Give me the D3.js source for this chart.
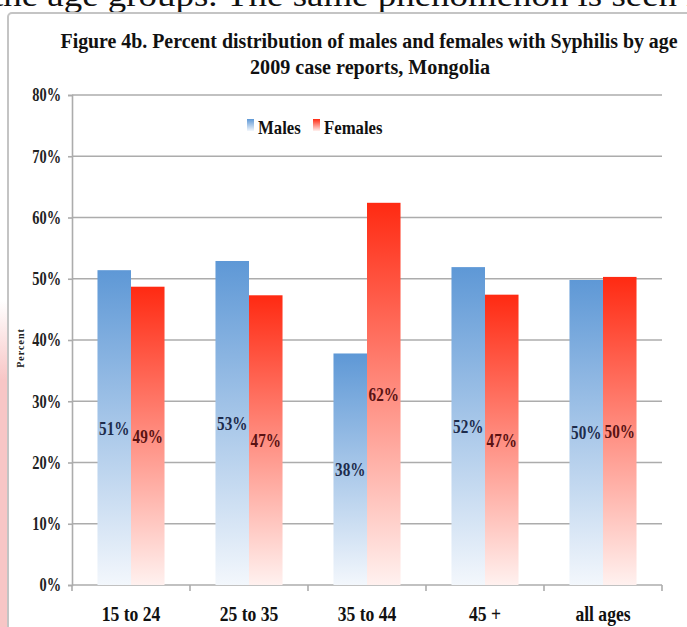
<!DOCTYPE html>
<html>
<head>
<meta charset="utf-8">
<script src="https://cdn.jsdelivr.net/npm/d3@7"></script>
<style>
  body { margin: 0; background: #fff; }
  svg text { font-family: "Liberation Serif", "DejaVu Serif", serif; font-weight: bold; }
</style>
</head>
<body>
<svg id="chart" width="687" height="627"></svg>
<script>
//  data
const categories = ["15 to 24", "25 to 35", "35 to 44", "45 +", "all ages"];
const series = ["Males", "Females"];
const males = [51.4, 52.9, 37.8, 51.9, 49.8];
const females = [48.7, 47.3, 62.4, 47.4, 50.3];
const males_labels = ["51%", "53%", "38%", "52%", "50%"];
const females_labels = ["49%", "47%", "62%", "47%", "50%"];
const y_ticks = [0, 10, 20, 30, 40, 50, 60, 70, 80];

const w = 687, h = 627;
const margin = ({top: 95, right: 25, bottom: 42, left: 72});
const svg = d3.select("#chart");

const x0 = d3.scaleBand().domain(categories).range([margin.left, w - margin.right]);
const x1 = d3.scaleBand().domain(series).range([0, x0.bandwidth()]).paddingOuter(0.76);
const y = d3.scaleLinear().domain([0, 80]).range([h - margin.bottom, margin.top]);

//  condensed bold text, the chart font is narrower than ours
function squeezed(parent, x, y, k, str, size, anchor, color) {
  const g = parent.append("g").attr("transform", `translate(${x},${y}) scale(${k},1)`);
  g.append("text")
    .attr("text-anchor", anchor)
    .style("font-size", size + "px")
    .style("fill", color)
    .text(str);
  return g;
}

const defs = svg.append("defs");
const grad = (id, top, bottom) => {
  const g = defs.append("linearGradient").attr("id", id)
    .attr("x1", 0).attr("y1", 0).attr("x2", 0).attr("y2", 1);
  g.append("stop").attr("offset", "0%").attr("stop-color", top);
  g.append("stop").attr("offset", "100%").attr("stop-color", bottom);
};
grad("g_males", "#5e98d6", "#f3f7fc");
grad("g_females", "#ff2a12", "#fff1ef");
grad("g_pink", "#ffffff", "#f8c6c6");

//  page behind the chart
svg.append("rect").attr("x", 0).attr("y", 300).attr("width", 8).attr("height", 80)
  .attr("fill", "url(#g_pink)");
svg.append("rect").attr("x", 0).attr("y", 380).attr("width", 8).attr("height", h - 380)
  .attr("fill", "#f8c6c6");
svg.append("text")
  .attr("x", -7).attr("y", 6)
  .attr("textLength", 722).attr("lengthAdjust", "spacingAndGlyphs")
  .style("font-size", "31px").style("font-weight", "normal").style("fill", "#111")
  .text("the age groups. The same phenomenon is seen in");

//  chart frame
svg.append("rect").attr("x", 8).attr("y", 13).attr("width", 700).attr("height", 640)
  .attr("rx", 4).attr("fill", "#fff").attr("stroke", "#c4c4c4").attr("stroke-width", 2);

//  title
svg.append("text").attr("x", 369).attr("y", 48).attr("text-anchor", "middle")
  .attr("textLength", 617).attr("lengthAdjust", "spacingAndGlyphs")
  .style("font-size", "20px").style("fill", "#111")
  .text("Figure 4b. Percent distribution of males and females with Syphilis by age");
svg.append("text").attr("x", 370).attr("y", 74).attr("text-anchor", "middle")
  .attr("textLength", 240).attr("lengthAdjust", "spacingAndGlyphs")
  .style("font-size", "20px").style("fill", "#111")
  .text("2009 case reports, Mongolia");

//  gridlines
svg.append("g").selectAll("line").data(y_ticks.slice(1)).join("line")
  .attr("x1", margin.left).attr("x2", w - margin.right)
  .attr("y1", d => y(d)).attr("y2", d => y(d))
  .attr("stroke", "#acacac").attr("stroke-width", 1.6);

//  y axis
const tk = 0.8;
const yAxis = g => g
  .attr("transform", `translate(${margin.left},0)`)
  .call(d3.axisLeft(y).tickValues(y_ticks).tickFormat(d => d + "%").tickSize(4).tickPadding(7));
svg.append("g").style("font-size", "18px").call(yAxis)
  .call(g => g.select(".domain").attr("stroke", "#acacac").attr("stroke-width", 1.6))
  .call(g => g.selectAll(".tick line").attr("stroke", "#acacac").attr("stroke-width", 1.6))
  .call(g => g.selectAll(".tick text").attr("fill", "#222")
    .attr("font-family", "Liberation Serif").attr("font-weight", "bold")
    .attr("x", -11 / tk).attr("transform", `scale(${tk},1)`));

//  x axis
svg.append("line")
  .attr("x1", margin.left).attr("x2", w - margin.right)
  .attr("y1", y(0)).attr("y2", y(0))
  .attr("stroke", "#acacac").attr("stroke-width", 1.6);
const bounds = categories.map(c => x0(c)).concat([x0(categories[categories.length-1]) + x0.bandwidth()]);
svg.append("g").selectAll("line").data(bounds).join("line")
  .attr("x1", d => d).attr("x2", d => d)
  .attr("y1", y(0)).attr("y2", y(0) + 6)
  .attr("stroke", "#acacac").attr("stroke-width", 1.6);
const xl = svg.append("g");
categories.forEach(c => {
  squeezed(xl, x0(c) + x0.bandwidth() / 2, y(0) + 36, 0.88, c, 20, "middle", "#111");
});

//  y axis title
svg.append("text")
  .attr("transform", `translate(24,${(y(0) + y(80)) / 2 + 8}) rotate(-90)`)
  .attr("text-anchor", "middle")
  .style("font-size", "10px").style("letter-spacing", "1px").style("fill", "#222")
  .text("Percent");

//  bars
const values = {Males: males, Females: females};
const labels = {Males: males_labels, Females: females_labels};
const label_color = {Males: "#1d2c4c", Females: "#5a1212"};

series.forEach(s => {
  categories.forEach((c, i) => {
    const v = values[s][i];
    svg.append("rect")
      .attr("x", x0(c) + x1(s))
      .attr("y", y(v))
      .attr("width", x1.bandwidth())
      .attr("height", y(0) - y(v))
      .attr("fill", `url(#g_${s.toLowerCase()})`);

    squeezed(svg, x0(c) + x1(s) + x1.bandwidth() / 2, y(v / 2) + 7, 0.8,
      labels[s][i], 19, "middle", label_color[s]);
  });
});

//  legend
const legend = svg.append("g").attr("transform", "translate(247,119)");
series.forEach((s, i) => {
  const gx = i == 0 ? 0 : 66;
  legend.append("rect").attr("x", gx).attr("y", 0).attr("width", 7).attr("height", 12)
    .attr("fill", `url(#g_${s.toLowerCase()})`);
  squeezed(legend, gx + 11, 15, 0.93, s, 18, "start", "#111");
});
</script>
</body>
</html>
